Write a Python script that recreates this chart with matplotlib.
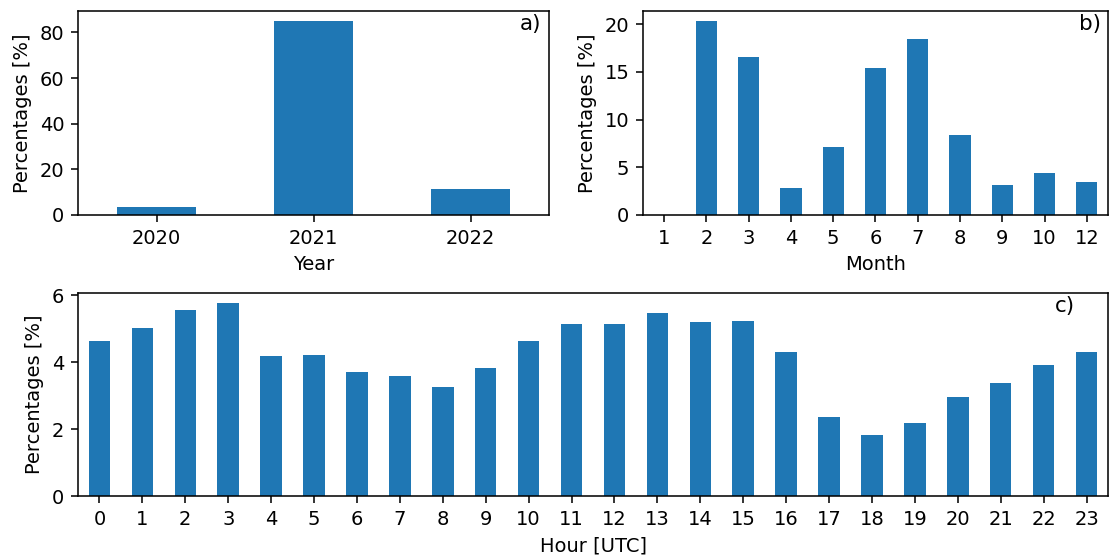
"""
Distribution of events by year, month and hour (three-panel bar chart).
"""

import matplotlib
matplotlib.use("Agg")
import matplotlib.pyplot as plt
import numpy as np

OUT_PATH = "out.png"
DPI = 140

years = ["2020", "2021", "2022"]
year_pct = [3.6, 85.1, 11.3]

months = ["1", "2", "3", "4", "5", "6", "7", "8", "9", "10", "12"]
month_pct = [0.0, 20.35, 16.6, 2.8, 7.1, 15.4, 18.4, 8.4, 3.15, 4.35, 3.5]

hours = [str(h) for h in range(24)]
hour_pct = [4.63, 5.03, 5.56, 5.78, 4.18, 4.21, 3.71, 3.58, 3.25, 3.83,
            4.63, 5.14, 5.14, 5.46, 5.21, 5.23, 4.30, 2.36, 1.81, 2.19,
            2.97, 3.37, 3.92, 4.30]

COLOR = "#1f77b4"


def bar_panel(ax, labels, values, xlabel, tag, tag_x):
    x = np.arange(len(labels))
    ax.bar(x, values, width=0.5, color=COLOR)
    ax.set_xticks(x)
    ax.set_xticklabels(labels)
    ax.set_xlim(-0.5, len(labels) - 0.5)
    ax.set_xlabel(xlabel)
    ax.set_ylabel("Percentages [%]")
    ax.text(tag_x, 0.985, tag, transform=ax.transAxes, ha="right", va="top",
            fontsize=11)


def main():
    fig = plt.figure(figsize=(1113 / DPI, 558 / DPI), dpi=DPI)

    ax_a = fig.add_axes([0.0701, 0.6147, 0.4232, 0.3656])
    ax_b = fig.add_axes([0.5777, 0.6147, 0.4178, 0.3656])
    ax_c = fig.add_axes([0.0701, 0.1111, 0.9254, 0.3638])

    bar_panel(ax_a, years, year_pct, "Year", "a)", 0.983)
    ax_a.set_yticks([0, 20, 40, 60, 80])

    bar_panel(ax_b, months, month_pct, "Month", "b)", 0.985)
    ax_b.set_yticks([0, 5, 10, 15, 20])

    bar_panel(ax_c, hours, hour_pct, "Hour [UTC]", "c)", 0.968)
    ax_c.set_yticks([0, 2, 4, 6])

    fig.savefig(OUT_PATH, dpi=DPI)


if __name__ == "__main__":
    main()
